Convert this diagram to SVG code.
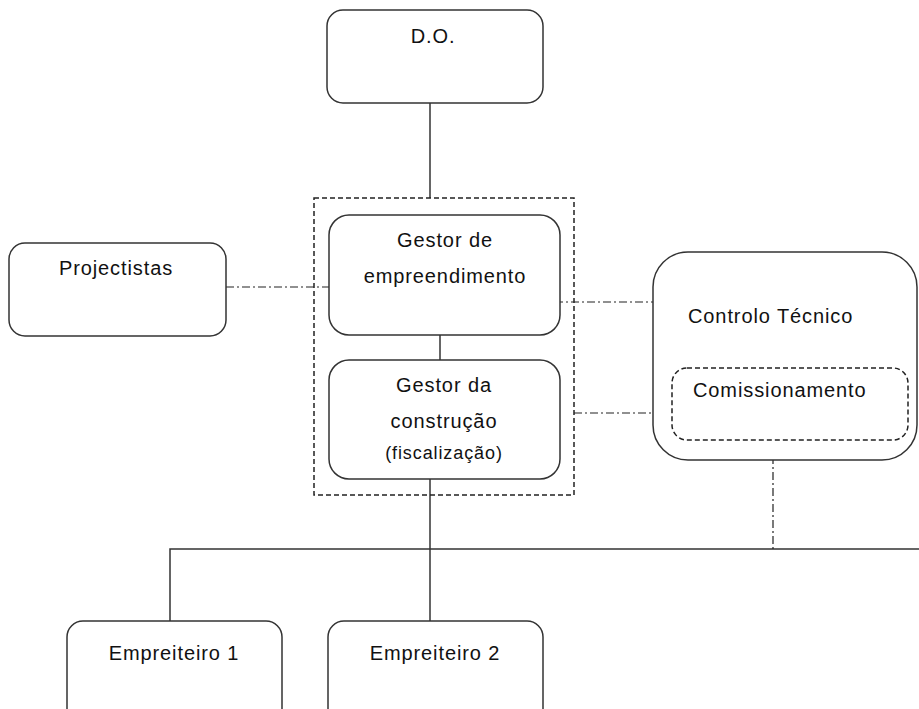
<svg xmlns="http://www.w3.org/2000/svg" width="919" height="709" viewBox="0 0 919 709">
<style>
.box{fill:#fff;stroke:#333;stroke-width:1.5}
.dbox{fill:none;stroke:#222;stroke-width:1.5;stroke-dasharray:5 3}
.solid{fill:none;stroke:#333;stroke-width:1.5}
.dd{fill:none;stroke:#222;stroke-width:1.2;stroke-dasharray:8 3 2 3}
text{font-family:"Liberation Sans",Arial,sans-serif;font-size:20px;fill:#111;letter-spacing:0.9px}
.c{text-anchor:middle}
.s{font-size:18px}
</style>
<rect width="919" height="709" fill="#fff"/>
<g id="connectors">
<path class="solid" d="M430 103V198"/>
<path class="solid" d="M440 335V360"/>
<path class="solid" d="M430 479V621"/>
<path class="solid" d="M170 621V549H919"/>
<path class="dd" d="M226 287H329"/>
<path class="dd" d="M555 302H653"/>
<path class="dd" d="M574 413H672"/>
<path class="dd" d="M773 440V549"/>
</g>
<g id="group-gestao"><rect class="dbox" x="314" y="198" width="260" height="297"/></g>
<g id="do"><rect class="box" x="327" y="10" width="216" height="93" rx="16"/><text class="c" x="433" y="43">D.O.</text></g>
<g id="gestor-empreendimento"><rect class="box" x="329" y="215" width="231" height="120" rx="20"/><text class="c" x="445" y="247">Gestor de</text><text class="c" x="445" y="283">empreendimento</text></g>
<g id="gestor-construcao"><rect class="box" x="329" y="360" width="231" height="119" rx="20"/><text class="c" x="444" y="392">Gestor da</text><text class="c" x="444" y="428">construção</text><text class="c s" x="444" y="459">(fiscalização)</text></g>
<g id="projectistas"><rect class="box" x="9" y="243" width="217" height="93" rx="16"/><text class="c" x="116" y="275">Projectistas</text></g>
<g id="controlo-tecnico"><rect class="box" x="653" y="252" width="264" height="208" rx="35"/><text x="688" y="323">Controlo Técnico</text></g>
<g id="comissionamento"><rect class="dbox" x="672" y="368" width="236" height="72" rx="15"/><text x="693" y="397">Comissionamento</text></g>
<g id="empreiteiro1"><rect class="box" x="67" y="621" width="215" height="110" rx="16"/><text class="c" x="174" y="660">Empreiteiro 1</text></g>
<g id="empreiteiro2"><rect class="box" x="328" y="621" width="215" height="110" rx="16"/><text class="c" x="435" y="660">Empreiteiro 2</text></g>
</svg>
